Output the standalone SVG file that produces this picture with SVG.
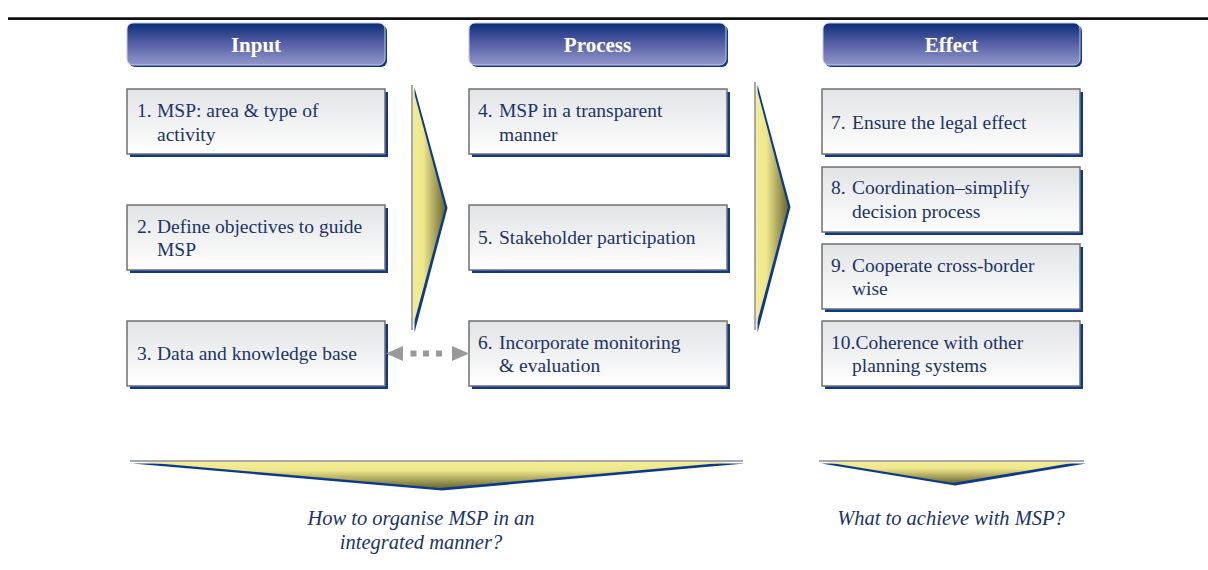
<svg xmlns="http://www.w3.org/2000/svg" width="1208" height="570" viewBox="0 0 1208 570">
<defs>
<linearGradient id="hdrGrad" x1="0" y1="0" x2="0" y2="1">
<stop offset="0" stop-color="#0a2d77"/><stop offset="0.4" stop-color="#4a56a0"/><stop offset="1" stop-color="#9297ca"/>
</linearGradient>
<linearGradient id="boxGrad" x1="0" y1="0" x2="0" y2="1">
<stop offset="0" stop-color="#e2e3e5"/><stop offset="1" stop-color="#ffffff"/>
</linearGradient>
<linearGradient id="chevH" x1="0" y1="0" x2="1" y2="0">
<stop offset="0" stop-color="#f4ee98"/><stop offset="0.35" stop-color="#eee68a"/><stop offset="1" stop-color="#6c6830"/>
</linearGradient>
<linearGradient id="chevV" x1="0" y1="0" x2="0" y2="1">
<stop offset="0" stop-color="#f4ee98"/><stop offset="0.35" stop-color="#eee68a"/><stop offset="1" stop-color="#6c6830"/>
</linearGradient>
<marker id="head" viewBox="0 0 17 15" refX="0" refY="7.5" markerWidth="17" markerHeight="15" markerUnits="userSpaceOnUse" orient="auto-start-reverse">
<path d="M0,0 L17,7.5 L0,15 z" fill="#9a9a9a"/>
</marker>
</defs>
<style>
.shadow{fill:#0b3a8c}
.hdr{fill:url(#hdrGrad);stroke:#c9cbd8;stroke-width:1}
.hdr-text{font-family:'Liberation Serif',serif;font-weight:bold;font-size:21px;fill:#ffffff;text-anchor:middle}
.box{fill:url(#boxGrad);stroke:#707070;stroke-width:1.5}
.t{font-family:'Liberation Serif',serif;font-size:19.5px;fill:#1b3466}
.cap{font-family:'Liberation Serif',serif;font-size:20.5px;font-style:italic;fill:#1b3466;text-anchor:middle}
.chevh{fill:url(#chevH)}
.chevv{fill:url(#chevV)}
.edge{stroke:#a8a8a8;stroke-width:2;fill:none}
</style>
<rect width="1208" height="570" fill="#ffffff"/>
<line x1="8" y1="18.7" x2="1208" y2="18.7" stroke="#111111" stroke-width="2.7"/>

<g id="hdr-input">
<rect class="shadow" x="129" y="25" width="258" height="42" rx="6"/>
<rect class="hdr" x="127" y="23" width="258" height="42" rx="6"/>
<text class="hdr-text" x="256" y="52">Input</text>
</g>
<g id="hdr-process">
<rect class="shadow" x="471" y="25" width="257" height="42" rx="6"/>
<rect class="hdr" x="469" y="23" width="257" height="42" rx="6"/>
<text class="hdr-text" x="597.5" y="52">Process</text>
</g>
<g id="hdr-effect">
<rect class="shadow" x="825" y="25" width="257" height="42" rx="6"/>
<rect class="hdr" x="823" y="23" width="257" height="42" rx="6"/>
<text class="hdr-text" x="951.5" y="52">Effect</text>
</g>

<g id="n1">
<rect class="shadow" x="130" y="92" width="258" height="65"/>
<rect class="box" x="127" y="89" width="258" height="65"/>
<text class="t" x="137" y="117">1.</text><text class="t" x="157" y="117">MSP: area &amp; type of</text>
<text class="t" x="157" y="140.5">activity</text>
</g>
<g id="n2">
<rect class="shadow" x="130" y="208" width="258" height="65"/>
<rect class="box" x="127" y="205" width="258" height="65"/>
<text class="t" x="137" y="232.5">2.</text><text class="t" x="157" y="232.5">Define objectives to guide</text>
<text class="t" x="157" y="256">MSP</text>
</g>
<g id="n3">
<rect class="shadow" x="130" y="324" width="258" height="65"/>
<rect class="box" x="127" y="321" width="258" height="65"/>
<text class="t" x="137" y="360">3.</text><text class="t" x="157" y="360">Data and knowledge base</text>
</g>

<g id="n4">
<rect class="shadow" x="472" y="92" width="258" height="65"/>
<rect class="box" x="469" y="89" width="258" height="65"/>
<text class="t" x="478" y="117">4.</text><text class="t" x="499" y="117">MSP in a transparent</text>
<text class="t" x="499" y="140.5">manner</text>
</g>
<g id="n5">
<rect class="shadow" x="472" y="208" width="258" height="65"/>
<rect class="box" x="469" y="205" width="258" height="65"/>
<text class="t" x="478" y="244">5.</text><text class="t" x="499" y="244">Stakeholder participation</text>
</g>
<g id="n6">
<rect class="shadow" x="472" y="324" width="258" height="65"/>
<rect class="box" x="469" y="321" width="258" height="65"/>
<text class="t" x="478" y="348.5">6.</text><text class="t" x="499" y="348.5">Incorporate monitoring</text>
<text class="t" x="499" y="372">&amp; evaluation</text>
</g>

<g id="n7">
<rect class="shadow" x="825" y="92" width="258" height="65"/>
<rect class="box" x="822" y="89" width="258" height="65"/>
<text class="t" x="831" y="128.5">7.</text><text class="t" x="852" y="128.5">Ensure the legal effect</text>
</g>
<g id="n8">
<rect class="shadow" x="825" y="170" width="258" height="65"/>
<rect class="box" x="822" y="167" width="258" height="65"/>
<text class="t" x="831" y="194">8.</text><text class="t" x="852" y="194">Coordination–simplify</text>
<text class="t" x="852" y="217.5">decision process</text>
</g>
<g id="n9">
<rect class="shadow" x="825" y="247" width="258" height="65"/>
<rect class="box" x="822" y="244" width="258" height="65"/>
<text class="t" x="831" y="271.5">9.</text><text class="t" x="852" y="271.5">Cooperate cross-border</text>
<text class="t" x="852" y="295">wise</text>
</g>
<g id="n10">
<rect class="shadow" x="825" y="324" width="258" height="65"/>
<rect class="box" x="822" y="321" width="258" height="65"/>
<text class="t" x="831" y="349">10.Coherence with other</text>
<text class="t" x="852" y="372">planning systems</text>
</g>

<g id="chevron-1">
<polygon class="shadow" points="414.5,87.5 447.5,208 414.5,332.5"/>
<polygon class="chevh" points="412,85 445,208 412,330"/>
<line class="edge" x1="412" y1="85" x2="412" y2="330"/>
</g>
<g id="chevron-2">
<polygon class="shadow" points="757.5,84.5 790.5,207 757.5,332.5"/>
<polygon class="chevh" points="755,82 788,207 755,330"/>
<line class="edge" x1="755" y1="82" x2="755" y2="330"/>
</g>
<g id="chevron-bottom-left">
<polygon class="shadow" points="132,463.5 745,463.5 442,490.5"/>
<polygon class="chevv" points="130,461 743,461 440,488"/>
<line class="edge" x1="130" y1="461" x2="743" y2="461"/>
</g>
<g id="chevron-bottom-right">
<polygon class="shadow" points="821,463.5 1086,463.5 955,485.5"/>
<polygon class="chevv" points="819,461 1084,461 953,483"/>
<line class="edge" x1="819" y1="461" x2="1084" y2="461"/>
</g>

<g id="captions">
<text class="cap" x="421" y="525">How to organise MSP in an</text>
<text class="cap" x="421" y="549">integrated manner?</text>
<text class="cap" x="951" y="525">What to achieve with MSP?</text>
</g>

<g id="connectors">
<line x1="403" y1="353.5" x2="452" y2="353.5" stroke="#9a9a9a" stroke-width="6" stroke-dasharray="0 7.5 6 6.5 6 7 6 20" marker-start="url(#head)" marker-end="url(#head)"/>
</g>
</svg>
